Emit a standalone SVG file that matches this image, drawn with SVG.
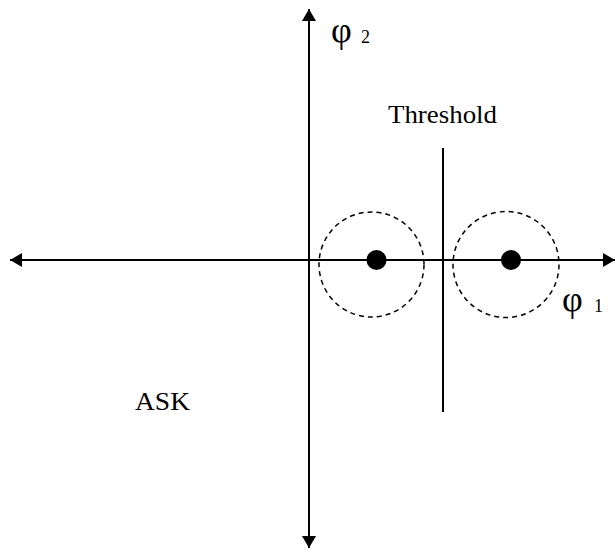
<svg xmlns="http://www.w3.org/2000/svg" width="616" height="551" viewBox="0 0 616 551">
<style>
.ax{stroke:#000;stroke-width:2;fill:none}
.dc{stroke:#000;stroke-width:1.5;fill:none;stroke-dasharray:5,4}
text{font-family:'Liberation Serif','Times New Roman','DejaVu Serif',serif;fill:#000}
</style>
<defs>
<marker id="ah" viewBox="0 0 12 14" refX="12" refY="7" markerWidth="6" markerHeight="7" orient="auto-start-reverse" markerUnits="strokeWidth">
<path d="M0,0 L12,7 L0,14 z" fill="#000"/>
</marker>
</defs>
<rect width="616" height="551" fill="#fff"/>
<g id="connectors">
<line class="ax" x1="309" y1="548" x2="309" y2="9" marker-start="url(#ah)" marker-end="url(#ah)"/>
<line class="ax" x1="10" y1="260" x2="615" y2="260" marker-start="url(#ah)" marker-end="url(#ah)"/>
<line class="ax" x1="443" y1="148" x2="443" y2="412"/>
</g>
<g id="left-point">
<circle class="dc" cx="371.5" cy="264.5" r="52.5"/>
<circle cx="376.5" cy="260" r="10" fill="#000"/>
</g>
<g id="right-point">
<circle class="dc" cx="506" cy="264.5" r="53"/>
<circle cx="511" cy="260" r="10" fill="#000"/>
</g>
<g id="labels">
<text x="331" y="42" font-size="36">φ</text>
<text x="361" y="43" font-size="18">2</text>
<text x="562" y="311" font-size="36">φ</text>
<text x="594" y="312" font-size="18">1</text>
<text x="388" y="123" font-size="25" textLength="109" lengthAdjust="spacingAndGlyphs">Threshold</text>
<text x="135" y="410" font-size="25" textLength="55" lengthAdjust="spacingAndGlyphs">ASK</text>
</g>
</svg>
